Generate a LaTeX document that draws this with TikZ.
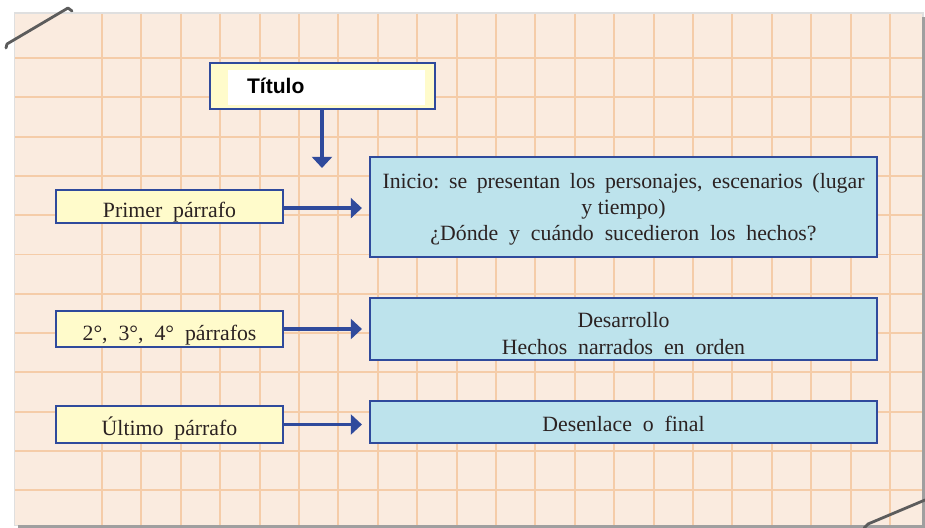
\documentclass[tikz,border=0pt]{standalone}
\usepackage{fontspec}
\setmainfont{Liberation Serif}
\newfontfamily\titlefont{Liberation Sans}
\usetikzlibrary{arrows.meta}
\definecolor{mypapercolor}{HTML}{FAEBDF}
\definecolor{mygridcolor}{HTML}{F5CCA8}
\definecolor{myedgecolor}{HTML}{2F4A9C}
\definecolor{myleftcolor}{HTML}{FFFBCB}
\definecolor{myrightcolor}{HTML}{BDE3EC}
\definecolor{mypincolor}{HTML}{5C5C5C}
\definecolor{mytextcolor}{HTML}{2B2222}
\tikzset{
  leftbox/.style={draw=myedgecolor, line width=1.5pt, fill=myleftcolor, rectangle, minimum width=5.675cm, inner sep=0pt, text=mytextcolor,
    font=\fontsize{15.5pt}{18.8pt}\selectfont, text height=0.65cm, text depth=0.1cm},
  rightbox/.style={draw=myedgecolor, line width=1.5pt, fill=myrightcolor, rectangle, minimum width=12.675cm, inner sep=0pt, align=center, text=mytextcolor,
    font=\fontsize{15.5pt}{18.8pt}\selectfont},
  titlebox/.style={draw=myedgecolor, line width=1.5pt, fill=myleftcolor, rectangle, minimum width=5.625cm, minimum height=1.15cm,
    text width=3.775cm, inner xsep=0.925cm, align=left, font=\titlefont\bfseries\fontsize{15pt}{15pt}\selectfont,
    path picture={\fill[white] ([xshift=0.45cm,yshift=-0.175cm]path picture bounding box.north west) rectangle ([xshift=-0.25cm,yshift=0.1cm]path picture bounding box.south east);}},
  myarrow/.style={myedgecolor, line width=2.4pt, -{Triangle[width=0.5cm,length=0.28cm]}},
  pin/.style={mypincolor, line width=2pt, line cap=round, line join=round},
}

\begin{document}
\begin{tikzpicture}%
\useasboundingbox (0,0) rectangle (23.125,-13.2);%
% hoja cuadriculada
\fill[gray!25] (0.35,-0.3) rectangle (23.1,-13.15);%
\fill[gray!75] (0.45,-0.425) rectangle (23.125,-13.2);%
\fill[mypapercolor] (0.375,-0.35) rectangle (23.05,-13.125);%
\foreach \i in {0,...,20} {\draw[mygridcolor, line width=1.3pt] (2.55+0.985*\i, -0.35) -- (2.55+0.985*\i, -13.125);}%
\foreach \j in {0,...,11} {\draw[mygridcolor, line width=1.3pt] (0.375, -1.45-0.9825*\j) -- (23.05, -1.45-0.9825*\j);}%
\draw[pin] (0.15,-1.2) -- (0.175,-1.1) -- (1.7,-0.2) -- (1.8,-0.275);%
\draw[pin] (21.6,-13.2) -- (21.7,-13.1) -- (23.125,-12.5);%
% cajas
\node[titlebox] (titulo) at (8.0625, -2.15) {Título};%
\coordinate (tituloFin) at (8.05, -4.2);%
\node[leftbox, minimum height=0.825cm] (primer) at (4.2375, -5.1625) {Primer\ \ párrafo};%
\node[leftbox, minimum height=0.9cm] (medio) at (4.2375, -8.225) {2°,\ \ 3°,\ \ 4°\ \ párrafos};%
\node[leftbox, minimum height=0.925cm] (ultimo) at (4.2375, -10.6125) {Último\ \ párrafo};%
\node[rightbox, minimum height=2.5cm, text depth=-0.1cm] (inicio) at (15.5875, -5.175) {\makebox[12.05cm][s]{Inicio:\ se\ presentan\ los\ personajes,\ escenarios\ (lugar}\\ y\ tiempo)\\ ¿Dónde\ \ y\ \ cuándo\ \ sucedieron\ \ los\ \ hechos?};%
\node[rightbox, minimum height=1.55cm] (desarrollo) at (15.5875, -8.225) {\rule{0pt}{0.6cm}Desarrollo\\ Hechos\ \ narrados\ \ en\ \ orden};%
\node[rightbox, minimum height=1.05cm, text height=0.55cm, text depth=0.1cm] (desenlace) at (15.5875, -10.55) {Desenlace\ \ o\ \ final};%
% flechas
\draw[myarrow] (titulo.south -| tituloFin) -- (tituloFin);%
\draw[myarrow, shorten >=0.175cm] ([yshift=-0.04cm]primer.east) -- ([yshift=-0.04cm]primer.east -| inicio.west);%
\draw[myarrow, shorten >=0.175cm] (medio.east) -- (medio.east -| desarrollo.west);%
\draw[myarrow, shorten >=0.175cm] (ultimo.east) -- (ultimo.east -| desenlace.west);%
\end{tikzpicture}
\end{document}
